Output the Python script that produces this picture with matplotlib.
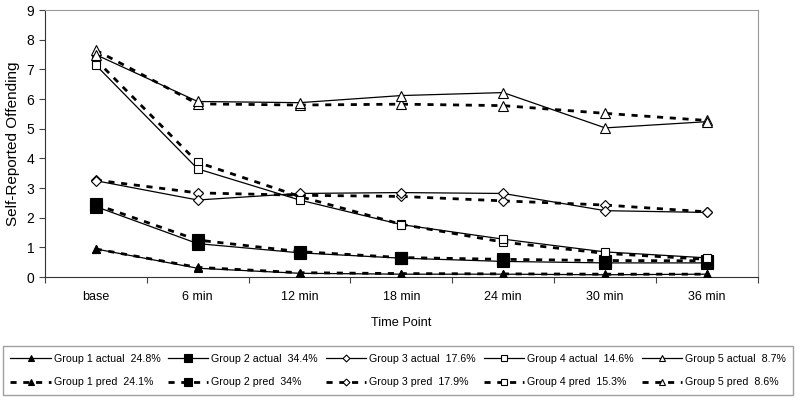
import matplotlib
matplotlib.use("Agg")
import matplotlib.pyplot as plt
import numpy as np

plt.rcParams['font.family'] = ['Liberation Sans', 'DejaVu Sans']

time_points = ['base', '6 min', '12 min', '18 min', '24 min', '30 min', '36 min']

g1_actual = [0.95, 0.30, 0.13, 0.10, 0.10, 0.08, 0.10]
g1_pred = [0.95, 0.33, 0.15, 0.12, 0.11, 0.10, 0.10]
g2_actual = [2.38, 1.13, 0.82, 0.64, 0.53, 0.48, 0.48]
g2_pred = [2.45, 1.25, 0.86, 0.66, 0.60, 0.56, 0.55]
g3_actual = [3.25, 2.60, 2.82, 2.85, 2.82, 2.24, 2.18]
g3_pred = [3.27, 2.84, 2.76, 2.72, 2.57, 2.43, 2.20]
g4_actual = [7.15, 3.65, 2.60, 1.77, 1.28, 0.85, 0.65]
g4_pred = [7.33, 3.87, 2.72, 1.78, 1.18, 0.80, 0.60]
g5_actual = [7.50, 5.92, 5.88, 6.12, 6.22, 5.03, 5.24]
g5_pred = [7.65, 5.84, 5.80, 5.83, 5.78, 5.52, 5.28]

actual_labels = ['Group 1 actual  24.8%', 'Group 2 actual  34.4%', 'Group 3 actual  17.6%',
                 'Group 4 actual  14.6%', 'Group 5 actual  8.7%']
pred_labels = ['Group 1 pred  24.1%', 'Group 2 pred  34%', 'Group 3 pred  17.9%',
               'Group 4 pred  15.3%', 'Group 5 pred  8.6%']

actuals = [g1_actual, g2_actual, g3_actual, g4_actual, g5_actual]
preds = [g1_pred, g2_pred, g3_pred, g4_pred, g5_pred]

# marker, size, filled
styles = [('^', 6, True), ('s', 8, True), ('D', 5, False), ('s', 5.5, False), ('^', 6.5, False)]

fig = plt.figure(figsize=(8, 4.04), dpi=100)
ax = fig.add_axes([0.056, 0.314, 0.8915, 0.661])

x = np.arange(len(time_points)) + 0.5
handles = []
for i in range(5):
    m, ms, filled = styles[i]
    face = 'black' if filled else 'white'
    h1, = ax.plot(x, actuals[i], color='black', lw=0.9, marker=m, ms=ms,
                  mfc=face, mec='black', mew=0.8, label=actual_labels[i], zorder=3)
    h2, = ax.plot(x, preds[i], color='black', lw=2.0, linestyle=(0, (2.2, 2.4)),
                  marker=m, ms=ms, mfc=face, mec='black', mew=0.8,
                  label=pred_labels[i], zorder=2)
    handles += [h1, h2]

ax.set_xlim(0, 7)
ax.set_ylim(0, 9)
ax.set_yticks(range(10))
ax.set_xticks(np.arange(8), minor=False)
ax.set_xticklabels([])
ax.set_xticks(x, minor=True)
ax.set_xticklabels(time_points, minor=True)
ax.tick_params(axis='x', which='minor', length=0, pad=10, labelsize=9)
ax.tick_params(axis='x', which='major', length=4, color='#444444')
ax.tick_params(axis='y', length=4, labelsize=10, color='#444444')

for s in ['top', 'right']:
    ax.spines[s].set_color('#999999')
for s in ['left', 'bottom']:
    ax.spines[s].set_color('#333333')

ax.set_xlabel('Time Point', fontsize=9.2, labelpad=10)
ax.set_ylabel('Self-Reported Offending', fontsize=11, labelpad=5)

leg = fig.legend(handles=handles, loc='center', bbox_to_anchor=(0.4975, 0.083), ncol=5,
                 fontsize=7.7, frameon=True, fancybox=False, handlelength=3.75,
                 columnspacing=0.75, handletextpad=0.28, borderpad=0.7, labelspacing=1.3,
                 markerscale=0.7, borderaxespad=0)
leg.get_frame().set_edgecolor('#888888')
leg.get_frame().set_linewidth(1.0)

fig.savefig('out.png', dpi=100)
